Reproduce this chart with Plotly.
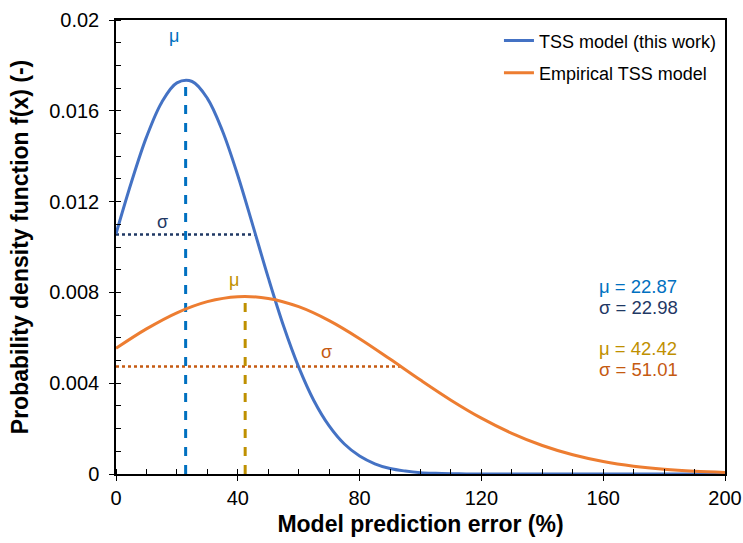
import plotly.graph_objects as go

# ---- data ----
x_blue = [0, 5, 10, 15, 20, 25, 30, 35, 40, 45, 50, 55, 60, 65, 70, 75, 80, 85, 90, 95, 100, 105, 110, 115, 120, 140, 160, 180, 200]
y_blue = [0.01058, 0.01283, 0.01484, 0.01637, 0.01723, 0.01729, 0.01655, 0.01510, 0.01315, 0.01092,
          0.00865, 0.00653, 0.00471, 0.00323, 0.00212, 0.00132, 0.00079, 0.00045, 0.00024, 0.00013, 0.00006,
          0.00003, 0.000013, 0.000005, 0.000002, 0.0, 0.0, 0.0, 0.0]

x_orange = [0, 10, 20, 30, 40, 50, 60, 70, 80, 90, 100, 110, 120, 130, 140, 150, 160, 170, 180, 190, 200]
y_orange = [0.005535, 0.006391, 0.007101, 0.007593, 0.007812, 0.007735, 0.007370, 0.006757, 0.005962,
            0.005062, 0.004136, 0.003252, 0.002460, 0.001791, 0.001254, 0.000846, 0.000549, 0.000343, 0.000206,
            0.000119, 0.000066]

series_names = ["TSS model (this work)", "Empirical TSS model"]
mu_values = [22.87, 42.42]
sigma_values = [22.98, 51.01]
mu_peak_y = [0.01735, 0.00782]
sigma_line_y = [0.01055, 0.00474]

x_ticks = [0, 40, 80, 120, 160, 200]
y_ticks = [0, 0.004, 0.008, 0.012, 0.016, 0.02]
y_tick_labels = ["0", "0.004", "0.008", "0.012", "0.016", "0.02"]

# ---- styles ----
curve_colors = ["#4472C4", "#ED7D31"]
mu_colors = ["#0070C0", "#BF9000"]
sigma_colors = ["#1F3864", "#C55A11"]
FONT = "Liberation Sans, Arial, sans-serif"

fig = go.Figure()

# sigma dotted lines
for i in range(2):
    fig.add_trace(go.Scatter(x=[0, mu_values[i] + sigma_values[i]], y=[sigma_line_y[i], sigma_line_y[i]],
                             mode="lines", line=dict(color=sigma_colors[i], width=2.5, dash="dot"),
                             showlegend=False, hoverinfo="skip"))
# mu dashed lines
for i in range(2):
    fig.add_trace(go.Scatter(x=[mu_values[i], mu_values[i]], y=[0, mu_peak_y[i]],
                             mode="lines", line=dict(color=mu_colors[i], width=3, dash="dash"),
                             showlegend=False, hoverinfo="skip"))

fig.add_trace(go.Scatter(x=x_blue, y=y_blue, mode="lines", name=series_names[0],
                         line=dict(color=curve_colors[0], width=3, shape="spline", smoothing=1.0),
                         legendgroup="a"))
fig.add_trace(go.Scatter(x=x_orange, y=y_orange, mode="lines", name=series_names[1],
                         line=dict(color=curve_colors[1], width=3, shape="spline", smoothing=1.0),
                         legendgroup="b"))

# labels near lines
fig.add_annotation(x=19.1, y=0.01928, text="μ", showarrow=False, font=dict(color=mu_colors[0], size=18, family=FONT))
fig.add_annotation(x=15.4, y=0.01111, text="σ", showarrow=False, font=dict(color=sigma_colors[0], size=18, family=FONT))
fig.add_annotation(x=38.8, y=0.00855, text="μ", showarrow=False, font=dict(color=mu_colors[1], size=18, family=FONT))
fig.add_annotation(x=69.0, y=0.00537, text="σ", showarrow=False, font=dict(color=sigma_colors[1], size=18, family=FONT))

# stats text
stats = [
    (0.00824, f"μ = {mu_values[0]:.2f}", mu_colors[0]),
    (0.00734, f"σ = {sigma_values[0]:.2f}", sigma_colors[0]),
    (0.00551, f"μ = {mu_values[1]:.2f}", mu_colors[1]),
    (0.00461, f"σ = {sigma_values[1]:.2f}", sigma_colors[1]),
]
for yv, txt, col in stats:
    fig.add_annotation(x=157.9, y=yv, text=txt, showarrow=False, xanchor="left",
                       font=dict(color=col, size=18.5, family=FONT))

fig.update_layout(
    width=743, height=543,
    margin=dict(l=116, r=18, t=20, b=69),
    paper_bgcolor="white", plot_bgcolor="white",
    font=dict(family=FONT, color="black"),
    legend=dict(x=0.995, y=0.995, xanchor="right", yanchor="top", bgcolor="rgba(0,0,0,0)",
                font=dict(size=18, family=FONT), tracegroupgap=6),
    showlegend=True,
)
fig.update_xaxes(range=[0, 200], tickvals=x_ticks, showgrid=False, zeroline=False, automargin=False,
                 showline=True, linecolor="black", linewidth=1.5, mirror=True,
                 ticks="outside", ticklen=5, tickcolor="black", tickwidth=1.2,
                 minor=dict(ticks="inside", dtick=10, ticklen=5, tickcolor="black", tickwidth=1.2),
                 tickfont=dict(size=20, family=FONT),
                 title=dict(text="<b>Model prediction error (%)</b>", font=dict(size=23, family=FONT), standoff=8))
fig.update_yaxes(range=[0, 0.02], tickvals=y_ticks, ticktext=y_tick_labels, showgrid=False, zeroline=False,
                 automargin=False, ticklabelstandoff=6,
                 showline=True, linecolor="black", linewidth=1.5, mirror=True,
                 ticks="outside", ticklen=5, tickcolor="black", tickwidth=1.2,
                 minor=dict(ticks="inside", dtick=0.001, ticklen=5, tickcolor="black", tickwidth=1.2),
                 tickfont=dict(size=20, family=FONT),
                 title=dict(text="<b>Probability density function f(x) (-)</b>", font=dict(size=23, family=FONT), standoff=14))

fig.write_html("out.html")
